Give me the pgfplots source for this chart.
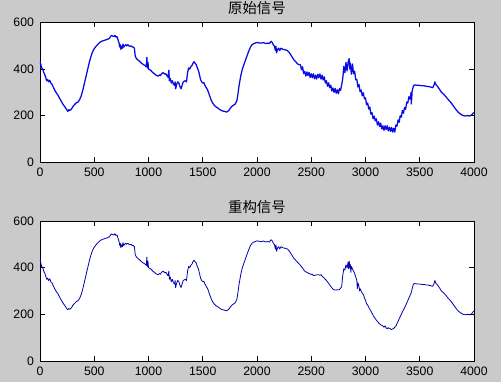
\documentclass[border=0pt]{standalone}
\usepackage{pgfplots}
\usepackage{pgfplotstable}
\pgfplotsset{compat=1.18}
\usepackage{fontspec}
\setmainfont{Liberation Sans}
\newfontfamily\cjk{Noto Sans CJK SC}
\definecolor{figbg}{RGB}{202,202,202}
\definecolor{sigA}{RGB}{10,10,230}
\definecolor{sigB}{RGB}{0,0,175}

\pgfplotstableread{
x y
0 432
8 420
15 405
25 400
35 385
45 375
55 360
62 350
70 355
80 345
90 352
100 340
110 335
120 325
135 310
150 298
165 288
180 275
195 262
210 250
225 240
240 230
250 222
258 218
265 225
275 222
290 228
305 240
320 248
335 255
350 258
365 268
380 285
395 310
410 340
425 370
440 400
455 430
470 455
485 475
500 488
520 500
540 510
560 518
580 522
600 525
620 528
640 532
650 540
660 545
670 542
680 540
690 545
700 538
710 540
720 525
730 510
735 495
740 505
745 485
752 498
760 490
765 508
772 495
780 500
790 505
800 500
810 505
820 500
830 498
840 500
850 495
860 495
870 490
878 455
890 445
900 440
915 435
930 428
945 422
960 418
970 415
980 410
985 450
990 405
995 430
1000 400
1020 395
1040 385
1060 378
1075 372
1090 370
1100 375
1110 372
1120 380
1135 385
1150 378
1160 380
1170 372
1180 365
1188 395
1192 350
1200 360
1210 340
1220 350
1230 335
1240 330
1245 345
1250 315
1260 335
1270 345
1280 340
1290 325
1300 315
1310 330
1320 345
1330 348
1340 350
1350 345
1360 385
1370 405
1380 400
1390 410
1400 415
1410 425
1420 432
1430 425
1440 420
1450 405
1460 395
1470 375
1480 355
1490 345
1500 340
1510 342
1520 330
1530 322
1545 310
1560 290
1575 270
1590 255
1605 245
1620 238
1640 232
1660 225
1680 220
1700 218
1720 215
1730 218
1740 222
1755 232
1770 240
1785 245
1800 250
1815 265
1825 295
1835 330
1850 370
1865 400
1880 420
1895 440
1910 460
1925 478
1940 495
1955 505
1970 510
1985 512
2000 515
2020 513
2040 512
2060 514
2080 510
2100 512
2115 510
2130 520
2140 515
2150 505
2160 500
2170 480
2175 498
2180 470
2190 485
2200 490
2210 480
2220 490
2240 485
2260 483
2280 480
2300 470
2320 455
2340 440
2360 430
2380 420
2400 419
2410 397
2420 410
2430 381
2440 390
2450 370
2460 388
2470 372
2480 386
2490 364
2500 380
2510 363
2520 380
2530 358
2540 374
2550 357
2560 378
2570 363
2580 379
2590 357
2600 374
2610 353
2620 367
2630 340
2640 350
2650 326
2660 341
2670 320
2680 331
2690 306
2700 319
2710 300
2720 317
2730 296
2740 311
2750 294
2760 316
2770 308
2780 331
2790 358
2800 411
2810 385
2820 429
2830 392
2840 430
2850 445
2855 400
2860 426
2870 378
2880 422
2890 380
2900 391
2910 354
2920 356
2930 323
2940 334
2950 303
2960 310
2970 285
2980 298
2990 272
3000 276
3010 246
3020 254
3030 228
3040 237
3050 206
3060 213
3070 186
3080 198
3090 177
3100 186
3110 159
3120 173
3130 153
3140 168
3150 142
3160 156
3170 136
3180 156
3190 140
3200 156
3210 134
3220 150
3230 132
3240 149
3250 129
3260 145
3270 129
3280 159
3290 154
3300 181
3310 171
3320 199
3330 193
3340 222
3350 210
3360 235
3370 227
3380 258
3390 254
3400 281
3410 271
3420 299
3422 250
3430 304
3440 325
3450 332
3480 330
3500 330
3520 328
3540 328
3560 326
3580 325
3600 323
3620 320
3630 330
3640 345
3650 332
3660 328
3680 315
3700 300
3720 292
3740 282
3760 270
3780 260
3800 248
3820 235
3840 222
3860 212
3880 205
3900 200
3920 198
3940 200
3960 198
3980 203
3990 210
4000 212
}\orig

\pgfplotstableread{
x y
0 435
8 420
15 405
25 400
35 385
45 375
55 360
62 350
70 355
80 345
90 352
100 340
110 335
120 325
135 310
150 298
165 288
180 275
195 262
210 250
225 240
240 230
250 222
258 220
265 225
275 222
290 228
305 240
320 248
335 255
350 258
365 268
380 285
395 310
410 340
425 370
440 400
455 430
470 455
485 475
500 488
520 500
540 510
560 518
580 522
600 525
620 528
640 532
650 540
660 545
670 542
680 540
690 545
700 538
710 540
720 525
730 510
735 495
740 505
745 485
752 498
760 490
765 508
772 495
780 500
790 505
800 500
810 505
820 500
830 498
840 500
850 495
860 495
870 490
878 455
890 445
900 440
915 435
930 428
945 422
960 418
970 415
980 410
985 445
990 405
995 428
1000 400
1020 395
1040 385
1060 378
1075 372
1090 370
1100 375
1110 372
1120 380
1135 385
1150 378
1160 380
1170 372
1180 365
1188 385
1192 350
1200 360
1210 340
1220 350
1230 335
1240 330
1245 345
1250 315
1260 335
1270 345
1280 340
1290 325
1300 315
1310 330
1320 345
1330 348
1340 350
1350 345
1360 385
1370 405
1380 400
1390 410
1400 415
1410 425
1420 432
1430 425
1440 420
1450 405
1460 395
1470 375
1480 355
1490 345
1500 340
1510 342
1520 330
1530 322
1545 310
1560 290
1575 270
1590 255
1605 245
1620 238
1640 232
1660 225
1680 220
1700 218
1720 215
1730 218
1740 222
1755 232
1770 240
1785 245
1800 250
1815 265
1825 295
1835 330
1850 370
1865 400
1880 420
1895 440
1910 460
1925 478
1940 495
1955 505
1970 510
1985 512
2000 515
2020 513
2040 512
2060 514
2080 510
2100 512
2115 510
2130 520
2140 515
2150 505
2160 500
2170 480
2175 498
2180 470
2190 485
2200 490
2210 480
2220 490
2240 485
2260 483
2280 480
2300 470
2320 455
2340 440
2360 430
2380 420
2400 410
2420 398
2440 385
2460 380
2480 375
2500 371
2510 372
2520 366
2540 368
2560 370
2580 368
2590 370
2600 364
2620 355
2640 345
2660 333
2680 320
2700 308
2720 304
2740 305
2760 306
2770 312
2780 318
2790 365
2800 395
2810 390
2820 412
2830 398
2840 425
2845 395
2850 428
2855 400
2860 415
2865 380
2870 405
2880 395
2890 385
2900 375
2910 360
2920 345
2925 310
2930 335
2940 320
2945 300
2950 310
2960 300
2970 290
2980 285
2990 270
3000 260
3010 245
3020 240
3030 230
3040 222
3060 205
3080 188
3100 175
3120 164
3140 155
3160 150
3170 145
3180 150
3190 142
3200 138
3210 143
3220 140
3240 135
3260 140
3280 150
3300 170
3320 190
3340 210
3360 228
3380 248
3400 270
3420 290
3440 328
3450 332
3480 330
3500 330
3520 328
3540 328
3560 326
3580 325
3600 323
3620 320
3630 330
3640 345
3650 332
3660 328
3680 315
3700 300
3720 292
3740 282
3760 270
3780 260
3800 248
3820 235
3840 222
3860 212
3880 205
3900 200
3920 198
3940 200
3960 198
3980 203
3990 210
4000 215
}\recon

\pgfplotsset{
  mlab/.style={
    scale only axis,
    anchor=south west,
    width=325.5pt,
    height=104.5pt,
    xmin=0, xmax=4000, ymin=0, ymax=600,
    xtick={0,500,...,4000},
    ytick={0,200,400,600},
    axis background/.style={fill=white},
    axis line style={black, line width=0.6pt},
    tick style={black, line width=0.6pt},
    major tick length=3.5pt,
    tick align=inside,
    xtick pos=both, ytick pos=both,
    scaled ticks=false,
    /pgf/number format/1000 sep={},
    /pgf/number format/assume math mode=true,
    ticklabel style={font=\fontsize{9.2}{10}\selectfont, text=black},
    xticklabel style={yshift=-1pt},
    yticklabel style={xshift=-1pt},
    title style={font=\cjk\fontsize{10.8}{12}\selectfont, at={(0.5,1)}, anchor=south, yshift=-1.5pt, inner sep=1pt},
  }
}

\begin{document}
\begin{tikzpicture}
\useasboundingbox (0,0) rectangle (375.75pt,286.5pt);
\fill[figbg] (0,0) rectangle (375.75pt,286.5pt);
\begin{axis}[mlab, at={(30pt,165pt)}, title={原始信号}]
\addplot[sigA, line width=0.95pt, line join=round] table[x=x,y=y] {\orig};
\end{axis}
\begin{axis}[mlab, at={(30pt,15.75pt)}, height=105pt, title={重构信号}]
\addplot[sigB, line width=0.6pt, line join=round] table[x=x,y=y] {\recon};
\end{axis}
\end{tikzpicture}
\end{document}
